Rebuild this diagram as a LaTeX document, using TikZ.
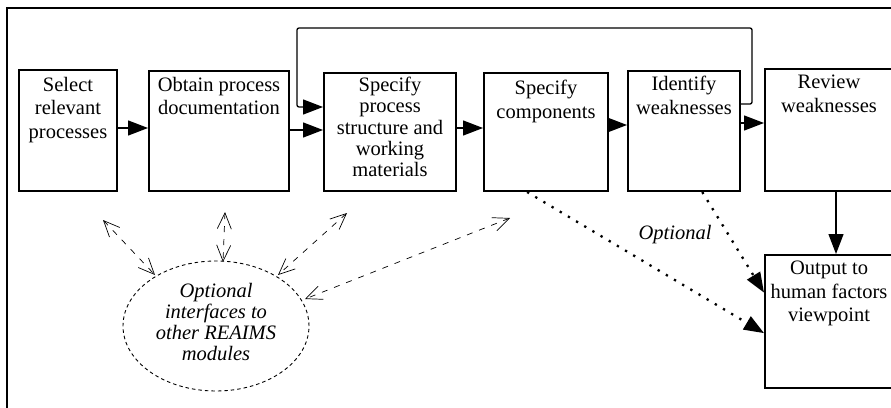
\documentclass[tikz,border=0pt]{standalone}
\usepackage{fontspec}
\setmainfont{Liberation Serif}
\usetikzlibrary{arrows.meta,shapes.geometric,calc}
\tikzset{
  box/.style={draw, line width=2pt, inner sep=0pt},
  lbl/.style={anchor=north, inner sep=0pt, align=center, font=\fontsize{20.5}{23.5}\selectfont, execute at begin node=\strut},
  arr/.style={line width=1.3pt, -{Triangle[length=20pt,width=15pt]}},
  dotarr/.style={line width=2.3pt, dash pattern=on 2.3pt off 7.2pt, -{Triangle[length=20pt,width=15pt]}},
  dasharr/.style={line width=0.7pt, dash pattern=on 6pt off 7pt, {Straight Barb[length=16pt,width=14pt]}-{Straight Barb[length=16pt,width=14pt]}},
}
\begin{document}
\begin{tikzpicture}[x=1pt,y=-1pt]
\useasboundingbox (0,0) rectangle (891,407);
\begin{scope}
\clip (0,0) rectangle (891,407);
\draw[line width=1.3pt] (7,430) -- (7,8) -- (910,8);
\node[box, minimum width=98pt, minimum height=121pt] (b1) at (68,130.5) {};
\node[box, minimum width=140pt, minimum height=120pt] (b2) at (219,131) {};
\node[box, minimum width=132pt, minimum height=118pt] (b3) at (390,132) {};
\node[box, minimum width=124pt, minimum height=118pt] (b4) at (546,132) {};
\node[box, minimum width=112pt, minimum height=120pt] (b5) at (684,131) {};
\node[box, minimum width=128pt, minimum height=122pt] (b6) at (829,130) {};
\node[box, minimum width=128pt, minimum height=133pt] (b7) at (829,321.5) {};

\node[lbl, yshift=-8pt] (t1) at (b1.north) {Select\\relevant\\processes};
\node[lbl, yshift=-7pt] (t2) at (b2.north) {Obtain process\\documentation};
\node[lbl, yshift=-5pt, font=\fontsize{20.5}{21.2}\selectfont] (t3) at (b3.north) {Specify\\process\\structure and\\working\\materials};
\node[lbl, yshift=-8pt] (t4) at (b4.north) {Specify\\components};
\node[lbl, yshift=-6pt] (t5) at (b5.north) {Identify\\weaknesses};
\node[lbl, yshift=-7pt] (t6) at (b6.north) {Review\\weaknesses};
\node[lbl, yshift=-7pt] (t7) at (b7.north) {Output to\\human factors\\viewpoint};

\draw[arr] (b1.east |- 0,128) -- (b2.west |- 0,128);
\draw[arr] (b2.east |- 0,130) -- (b3.west |- 0,130);
\draw[arr] (b3.east |- 0,128) -- (b4.west |- 0,128);
\draw[arr] (b4.east |- 0,125) -- (b5.west |- 0,125);
\draw[arr] (b5.east |- 0,123) -- (b6.west |- 0,123);
\draw[arr] (b6.south -| 836,0) -- (b7.north -| 836,0);

\coordinate (fa) at (752,104);
\coordinate (fb) at (297,28);
\draw[arr, rounded corners=2pt] (b5.east |- fa) -- (fa) |- (fb) -- (297,107) -- (b3.west |- 0,107);

\coordinate (d4) at ($(b4.south west)!0.35!(b4.south east)$);
\coordinate (d5) at ($(b5.south west)!0.66!(b5.south east)$);
\coordinate (e1) at ($(b7.north west)!0.586!(b7.south west)$);
\coordinate (e2) at ($(b7.north west)!0.286!(b7.south west)$);
\draw[dotarr] (d4) -- (e1);
\draw[dotarr] (d5) -- (e2);
\node[font=\fontsize{20.5}{23}\selectfont\itshape, anchor=base, inner sep=0pt] (optl) at (675,239) {Optional};

\node[draw, ellipse, line width=0.9pt, dash pattern=on 3.5pt off 3pt, minimum width=186pt, minimum height=130pt, inner sep=0pt] (opt) at (216,326) {};
\node[align=center, inner sep=0pt, font=\fontsize{20.5}{20.8}\selectfont\itshape] (optt) at (216,322) {Optional\\interfaces to\\other REAIMS\\modules};

\coordinate (p1) at (103,220); \coordinate (q1) at (155,275);
\coordinate (p2) at (225,212); \coordinate (q2) at (223,262);
\coordinate (p3) at (347,213); \coordinate (q3) at (278,275);
\coordinate (p4) at (510,218); \coordinate (q4) at (305,299);
\draw[dasharr] (p1) -- (q1);
\draw[dasharr] (p2) -- (q2);
\draw[dasharr] (p3) -- (q3);
\draw[dasharr] (p4) -- (q4);
\end{scope}
\end{tikzpicture}
\end{document}
